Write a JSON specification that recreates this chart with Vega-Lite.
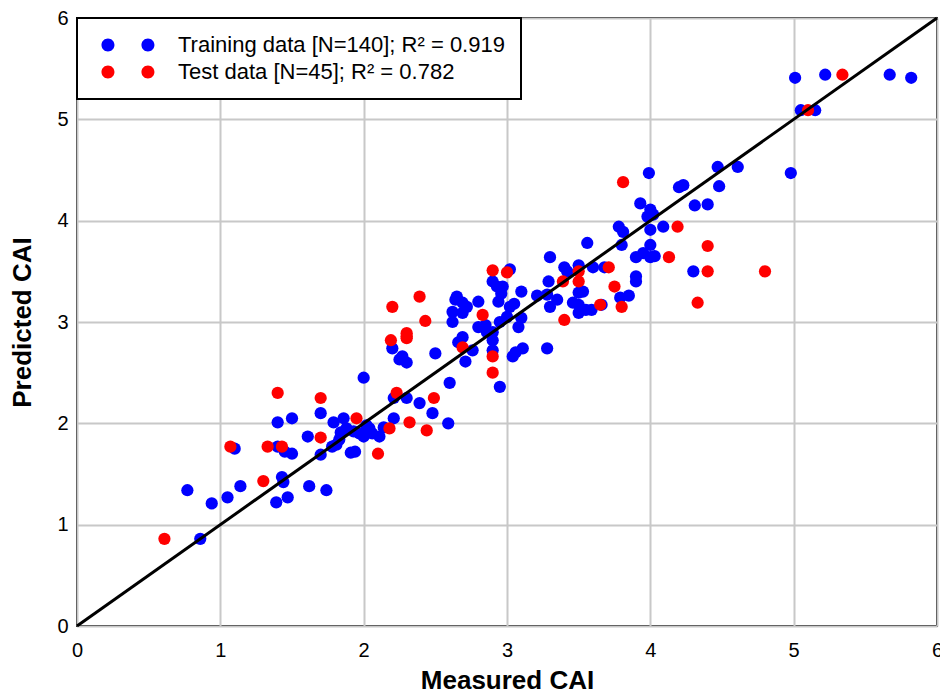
{
  "$schema": "https://vega.github.io/schema/vega-lite/v6.json",
  "width": 860,
  "height": 608,
  "autosize": {"type": "none"},
  "padding": {"left": 77, "top": 18, "right": 3, "bottom": 67},
  "background": "white",
  "config": {
    "font": "Liberation Sans",
    "view": {"stroke": "black", "strokeWidth": 2},
    "axis": {
      "grid": true,
      "gridColor": "#c8c8c8",
      "gridWidth": 2,
      "domain": false,
      "ticks": false,
      "format": "d",
      "labelFont": "Liberation Sans",
      "labelFontSize": 20,
      "labelColor": "black",
      "labelFlush": false,
      "titleFont": "Liberation Sans",
      "titleFontSize": 26,
      "titleFontWeight": "bold",
      "titleColor": "black"
    }
  },
  "layer": [
    {
      "data": {
        "values": [
          {"x": 0.77, "y": 1.34, "set": "Training"},
          {"x": 0.86, "y": 0.86, "set": "Training"},
          {"x": 0.94, "y": 1.21, "set": "Training"},
          {"x": 1.05, "y": 1.27, "set": "Training"},
          {"x": 1.10, "y": 1.75, "set": "Training"},
          {"x": 1.14, "y": 1.38, "set": "Training"},
          {"x": 1.39, "y": 1.22, "set": "Training"},
          {"x": 1.40, "y": 1.77, "set": "Training"},
          {"x": 1.40, "y": 2.01, "set": "Training"},
          {"x": 1.43, "y": 1.47, "set": "Training"},
          {"x": 1.44, "y": 1.42, "set": "Training"},
          {"x": 1.47, "y": 1.27, "set": "Training"},
          {"x": 1.50, "y": 2.05, "set": "Training"},
          {"x": 1.50, "y": 1.70, "set": "Training"},
          {"x": 1.45, "y": 1.72, "set": "Training"},
          {"x": 1.61, "y": 1.87, "set": "Training"},
          {"x": 1.62, "y": 1.38, "set": "Training"},
          {"x": 1.74, "y": 1.34, "set": "Training"},
          {"x": 1.70, "y": 2.10, "set": "Training"},
          {"x": 1.70, "y": 1.69, "set": "Training"},
          {"x": 1.79, "y": 2.01, "set": "Training"},
          {"x": 1.86, "y": 2.05, "set": "Training"},
          {"x": 1.84, "y": 1.91, "set": "Training"},
          {"x": 1.78, "y": 1.77, "set": "Training"},
          {"x": 1.81, "y": 1.79, "set": "Training"},
          {"x": 1.83, "y": 1.84, "set": "Training"},
          {"x": 1.88, "y": 1.95, "set": "Training"},
          {"x": 1.91, "y": 1.71, "set": "Training"},
          {"x": 1.94, "y": 1.72, "set": "Training"},
          {"x": 1.93, "y": 1.92, "set": "Training"},
          {"x": 1.97, "y": 1.90, "set": "Training"},
          {"x": 2.00, "y": 1.87, "set": "Training"},
          {"x": 2.02, "y": 1.98, "set": "Training"},
          {"x": 2.04, "y": 1.95, "set": "Training"},
          {"x": 2.06, "y": 1.90, "set": "Training"},
          {"x": 2.11, "y": 1.87, "set": "Training"},
          {"x": 2.14, "y": 1.96, "set": "Training"},
          {"x": 2.21, "y": 2.05, "set": "Training"},
          {"x": 2.21, "y": 2.25, "set": "Training"},
          {"x": 2.30, "y": 2.25, "set": "Training"},
          {"x": 2.39, "y": 2.20, "set": "Training"},
          {"x": 2.48, "y": 2.10, "set": "Training"},
          {"x": 2.00, "y": 2.45, "set": "Training"},
          {"x": 2.20, "y": 2.74, "set": "Training"},
          {"x": 2.27, "y": 2.66, "set": "Training"},
          {"x": 2.25, "y": 2.63, "set": "Training"},
          {"x": 2.30, "y": 2.60, "set": "Training"},
          {"x": 2.50, "y": 2.69, "set": "Training"},
          {"x": 2.60, "y": 2.40, "set": "Training"},
          {"x": 2.59, "y": 2.00, "set": "Training"},
          {"x": 2.64, "y": 3.22, "set": "Training"},
          {"x": 2.62, "y": 3.10, "set": "Training"},
          {"x": 2.62, "y": 3.00, "set": "Training"},
          {"x": 2.65, "y": 3.25, "set": "Training"},
          {"x": 2.69, "y": 3.19, "set": "Training"},
          {"x": 2.69, "y": 3.09, "set": "Training"},
          {"x": 2.72, "y": 3.15, "set": "Training"},
          {"x": 2.80, "y": 3.20, "set": "Training"},
          {"x": 2.90, "y": 3.40, "set": "Training"},
          {"x": 2.93, "y": 3.35, "set": "Training"},
          {"x": 2.97, "y": 3.35, "set": "Training"},
          {"x": 2.94, "y": 3.20, "set": "Training"},
          {"x": 2.96, "y": 3.28, "set": "Training"},
          {"x": 3.10, "y": 3.30, "set": "Training"},
          {"x": 3.21, "y": 3.26, "set": "Training"},
          {"x": 3.05, "y": 3.18, "set": "Training"},
          {"x": 3.02, "y": 3.15, "set": "Training"},
          {"x": 3.00, "y": 3.05, "set": "Training"},
          {"x": 3.10, "y": 3.04, "set": "Training"},
          {"x": 3.08, "y": 2.95, "set": "Training"},
          {"x": 2.95, "y": 3.00, "set": "Training"},
          {"x": 2.80, "y": 2.95, "set": "Training"},
          {"x": 2.85, "y": 2.97, "set": "Training"},
          {"x": 2.86, "y": 2.90, "set": "Training"},
          {"x": 2.90, "y": 2.90, "set": "Training"},
          {"x": 2.90, "y": 2.82, "set": "Training"},
          {"x": 2.69, "y": 2.85, "set": "Training"},
          {"x": 2.66, "y": 2.80, "set": "Training"},
          {"x": 2.76, "y": 2.72, "set": "Training"},
          {"x": 2.71, "y": 2.61, "set": "Training"},
          {"x": 2.90, "y": 2.72, "set": "Training"},
          {"x": 3.11, "y": 2.74, "set": "Training"},
          {"x": 3.06, "y": 2.70, "set": "Training"},
          {"x": 3.04, "y": 2.66, "set": "Training"},
          {"x": 2.95, "y": 2.36, "set": "Training"},
          {"x": 3.28, "y": 2.74, "set": "Training"},
          {"x": 3.29, "y": 3.40, "set": "Training"},
          {"x": 3.02, "y": 3.52, "set": "Training"},
          {"x": 3.56, "y": 3.78, "set": "Training"},
          {"x": 3.30, "y": 3.64, "set": "Training"},
          {"x": 3.40, "y": 3.54, "set": "Training"},
          {"x": 3.42, "y": 3.50, "set": "Training"},
          {"x": 3.50, "y": 3.56, "set": "Training"},
          {"x": 3.60, "y": 3.54, "set": "Training"},
          {"x": 3.68, "y": 3.54, "set": "Training"},
          {"x": 3.90, "y": 3.64, "set": "Training"},
          {"x": 3.95, "y": 3.68, "set": "Training"},
          {"x": 4.00, "y": 3.76, "set": "Training"},
          {"x": 4.00, "y": 3.64, "set": "Training"},
          {"x": 3.80, "y": 3.76, "set": "Training"},
          {"x": 3.81, "y": 3.89, "set": "Training"},
          {"x": 3.28, "y": 3.27, "set": "Training"},
          {"x": 3.30, "y": 3.15, "set": "Training"},
          {"x": 3.35, "y": 3.22, "set": "Training"},
          {"x": 3.50, "y": 3.29, "set": "Training"},
          {"x": 3.53, "y": 3.30, "set": "Training"},
          {"x": 3.50, "y": 3.17, "set": "Training"},
          {"x": 3.46, "y": 3.19, "set": "Training"},
          {"x": 3.50, "y": 3.09, "set": "Training"},
          {"x": 3.55, "y": 3.12, "set": "Training"},
          {"x": 3.59, "y": 3.12, "set": "Training"},
          {"x": 3.66, "y": 3.17, "set": "Training"},
          {"x": 3.79, "y": 3.24, "set": "Training"},
          {"x": 3.85, "y": 3.26, "set": "Training"},
          {"x": 3.90, "y": 3.45, "set": "Training"},
          {"x": 3.90, "y": 3.40, "set": "Training"},
          {"x": 3.99, "y": 4.47, "set": "Training"},
          {"x": 4.20, "y": 4.33, "set": "Training"},
          {"x": 4.23, "y": 4.35, "set": "Training"},
          {"x": 4.47, "y": 4.53, "set": "Training"},
          {"x": 4.61, "y": 4.53, "set": "Training"},
          {"x": 4.48, "y": 4.34, "set": "Training"},
          {"x": 4.31, "y": 4.15, "set": "Training"},
          {"x": 4.40, "y": 4.16, "set": "Training"},
          {"x": 3.93, "y": 4.17, "set": "Training"},
          {"x": 4.00, "y": 4.11, "set": "Training"},
          {"x": 4.02, "y": 4.06, "set": "Training"},
          {"x": 3.98, "y": 4.04, "set": "Training"},
          {"x": 3.78, "y": 3.94, "set": "Training"},
          {"x": 4.09, "y": 3.94, "set": "Training"},
          {"x": 4.00, "y": 3.91, "set": "Training"},
          {"x": 4.03, "y": 3.65, "set": "Training"},
          {"x": 4.30, "y": 3.50, "set": "Training"},
          {"x": 4.98, "y": 4.47, "set": "Training"},
          {"x": 5.01, "y": 5.41, "set": "Training"},
          {"x": 5.05, "y": 5.09, "set": "Training"},
          {"x": 5.15, "y": 5.09, "set": "Training"},
          {"x": 5.22, "y": 5.44, "set": "Training"},
          {"x": 5.67, "y": 5.44, "set": "Training"},
          {"x": 5.82, "y": 5.41, "set": "Training"},
          {"x": 0.61, "y": 0.86, "set": "Test"},
          {"x": 1.07, "y": 1.77, "set": "Test"},
          {"x": 1.33, "y": 1.77, "set": "Test"},
          {"x": 1.30, "y": 1.43, "set": "Test"},
          {"x": 1.40, "y": 2.30, "set": "Test"},
          {"x": 1.43, "y": 1.77, "set": "Test"},
          {"x": 1.70, "y": 2.25, "set": "Test"},
          {"x": 1.70, "y": 1.86, "set": "Test"},
          {"x": 1.95, "y": 2.05, "set": "Test"},
          {"x": 2.10, "y": 1.70, "set": "Test"},
          {"x": 2.18, "y": 1.95, "set": "Test"},
          {"x": 2.19, "y": 2.82, "set": "Test"},
          {"x": 2.20, "y": 3.15, "set": "Test"},
          {"x": 2.23, "y": 2.30, "set": "Test"},
          {"x": 2.30, "y": 2.89, "set": "Test"},
          {"x": 2.30, "y": 2.84, "set": "Test"},
          {"x": 2.30, "y": 2.86, "set": "Test"},
          {"x": 2.32, "y": 2.01, "set": "Test"},
          {"x": 2.39, "y": 3.25, "set": "Test"},
          {"x": 2.43, "y": 3.01, "set": "Test"},
          {"x": 2.44, "y": 1.93, "set": "Test"},
          {"x": 2.49, "y": 2.25, "set": "Test"},
          {"x": 2.69, "y": 2.75, "set": "Test"},
          {"x": 2.83, "y": 3.07, "set": "Test"},
          {"x": 2.90, "y": 3.51, "set": "Test"},
          {"x": 3.00, "y": 3.49, "set": "Test"},
          {"x": 2.90, "y": 2.66, "set": "Test"},
          {"x": 2.90, "y": 2.50, "set": "Test"},
          {"x": 3.39, "y": 3.40, "set": "Test"},
          {"x": 3.40, "y": 3.02, "set": "Test"},
          {"x": 3.50, "y": 3.50, "set": "Test"},
          {"x": 3.50, "y": 3.40, "set": "Test"},
          {"x": 3.71, "y": 3.54, "set": "Test"},
          {"x": 3.75, "y": 3.35, "set": "Test"},
          {"x": 3.65, "y": 3.17, "set": "Test"},
          {"x": 3.80, "y": 3.15, "set": "Test"},
          {"x": 3.81, "y": 4.38, "set": "Test"},
          {"x": 4.19, "y": 3.94, "set": "Test"},
          {"x": 4.13, "y": 3.64, "set": "Test"},
          {"x": 4.40, "y": 3.75, "set": "Test"},
          {"x": 4.40, "y": 3.50, "set": "Test"},
          {"x": 4.33, "y": 3.19, "set": "Test"},
          {"x": 4.80, "y": 3.50, "set": "Test"},
          {"x": 5.10, "y": 5.09, "set": "Test"},
          {"x": 5.34, "y": 5.44, "set": "Test"}
        ]
      },
      "mark": {"type": "circle", "size": 150, "opacity": 1},
      "encoding": {
        "x": {
          "field": "x",
          "type": "quantitative",
          "scale": {"domain": [0, 6], "nice": false},
          "axis": {"values": [0, 1, 2, 3, 4, 5, 6], "title": "Measured CAI", "labelPadding": 14, "titlePadding": 7}
        },
        "y": {
          "field": "y",
          "type": "quantitative",
          "scale": {"domain": [0, 6], "nice": false},
          "axis": {"values": [0, 1, 2, 3, 4, 5, 6], "title": "Predicted CAI", "labelPadding": 9, "titlePadding": 21}
        },
        "color": {
          "field": "set",
          "type": "nominal",
          "scale": {"domain": ["Training", "Test"], "range": ["#0000ff", "#ff0000"]},
          "legend": {
            "title": null,
            "orient": "top-left",
            "offset": 0,
            "padding": 16,
            "strokeColor": "black",
            "fillColor": "white",
            "cornerRadius": 0,
            "symbolType": "M-0.39,0C-0.39,-0.552,0.058,-1,0.61,-1C1.162,-1,1.61,-0.552,1.61,0C1.61,0.552,1.162,1,0.61,1C0.058,1,-0.39,0.552,-0.39,0ZM5.76,0C5.76,-0.552,6.208,-1,6.76,-1C7.312,-1,7.76,-0.552,7.76,0C7.76,0.552,7.312,1,6.76,1C6.208,1,5.76,0.552,5.76,0Z",
            "symbolSize": 169,
            "symbolStrokeWidth": 0,
            "symbolOpacity": 1,
            "labelFont": "Liberation Sans",
            "labelFontSize": 22,
            "labelColor": "black",
            "labelOffset": 63,
            "labelLimit": 0,
            "rowPadding": 5,
            "labelExpr": "datum.label == 'Training' ? 'Training data [N=140]; R² = 0.919' : 'Test data [N=45]; R² = 0.782'",
            "encode": {"legend": {"update": {"strokeWidth": {"value": 2}}}}
          }
        }
      }
    },
    {
      "data": {"values": [{"x": 0, "y": 0}, {"x": 6, "y": 6}]},
      "mark": {"type": "line", "color": "black", "strokeWidth": 3},
      "encoding": {
        "x": {"field": "x", "type": "quantitative"},
        "y": {"field": "y", "type": "quantitative"}
      }
    }
  ]
}
